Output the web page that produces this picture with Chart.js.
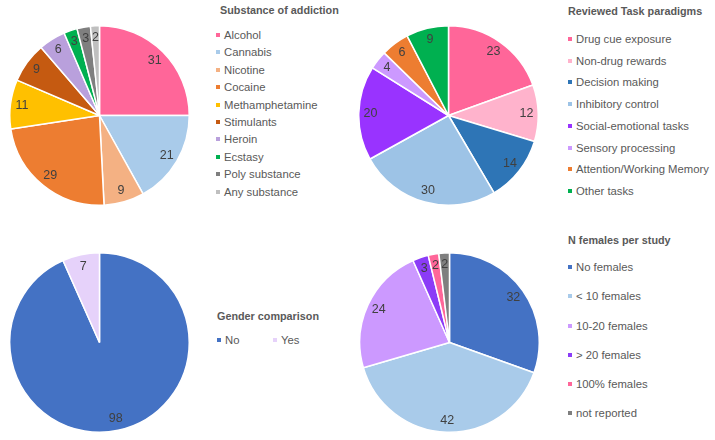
<!DOCTYPE html>
<html>
<head>
<meta charset="utf-8">
<script src="https://cdn.jsdelivr.net/npm/chart.js@4"></script>
<style>
  body { margin: 0; background: #fff; font-family: "Liberation Sans", Arial, sans-serif; }
  #wrap { position: relative; width: 715px; height: 440px; overflow: hidden; }
  .pie { position: absolute; width: 181px; height: 181px; }
  .lg { position: absolute; font-size: 11.3px; line-height: 14px; color: #595959; white-space: nowrap; }
  .lg.title { font-weight: bold; font-size: 10.8px; }
  .lg i { display: inline-block; width: 4px; height: 4px; margin-right: 4px; vertical-align: middle; position: relative; top: -1px; }
</style>
</head>
<body>
<div id="wrap">
  <div class="pie" style="left:9px;top:25px"><canvas id="substance"></canvas></div>
  <div class="pie" style="left:358px;top:25px"><canvas id="tasks"></canvas></div>
  <div class="pie" style="left:9px;top:252px"><canvas id="gender"></canvas></div>
  <div class="pie" style="left:359px;top:252px"><canvas id="females"></canvas></div>
</div>
<script>
const substanceLabels = ["Alcohol", "Cannabis", "Nicotine", "Cocaine", "Methamphetamine", "Stimulants", "Heroin", "Ecstasy", "Poly substance", "Any substance"];
const substanceValues = [31, 21, 9, 29, 11, 9, 6, 3, 3, 2];
const substanceColors = ["#ff6699", "#a9cbea", "#f4b183", "#ed7d31", "#ffc000", "#c55a11", "#b9a0dc", "#00b050", "#7f7f7f", "#bfbfbf"];

const taskLabels = ["Drug cue exposure", "Non-drug rewards", "Decision making", "Inhibitory control", "Social-emotional tasks", "Sensory processing", "Attention/Working Memory", "Other tasks"];
const taskValues = [23, 12, 14, 30, 20, 4, 6, 9];
const taskColors = ["#ff6699", "#ffb3cc", "#2e75b6", "#9dc3e6", "#9933ff", "#cc99ff", "#ed7d31", "#00b050"];

const genderLabels = ["No", "Yes"];
const genderValues = [98, 7];
const genderColors = ["#4472c4", "#e6d2fa"];

const femaleLabels = ["No females", "< 10 females", "10-20 females", "> 20 females", "100% females", "not reported"];
const femaleValues = [32, 42, 24, 3, 2, 2];
const femaleColors = ["#4472c4", "#a9cbea", "#cc99ff", "#8b3cf7", "#ff6699", "#7f7f7f"];

// draws the value inside each slice, near the outer edge
const sliceLabels = {
  id: "sliceLabels",
  afterDatasetsDraw(chart) {
    const ctx = chart.ctx;
    const values = chart.data.datasets[0].data;
    ctx.save();
    ctx.font = "12.5px 'Liberation Sans', Arial, sans-serif";
    ctx.fillStyle = "#404040";
    ctx.textAlign = "center";
    ctx.textBaseline = "middle";
    chart.getDatasetMeta(0).data.forEach((arc, i) => {
      const { x, y, startAngle, endAngle, outerRadius } = arc.getProps(["x", "y", "startAngle", "endAngle", "outerRadius"], true);
      const mid = (startAngle + endAngle) / 2;
      const r = outerRadius * 0.87;
      ctx.fillText(values[i], x + Math.cos(mid) * r, y + Math.sin(mid) * r);
    });
    ctx.restore();
  },
};

function makePie(id, labels, values, colors) {
  new Chart(document.getElementById(id), {
    type: "pie",
    data: {
      labels,
      datasets: [{ data: values, backgroundColor: colors, borderColor: "#fff", borderWidth: 1.5 }],
    },
    options: {
      responsive: true,
      maintainAspectRatio: false,
      animation: false,
      layout: { padding: 0 },
      plugins: { legend: { display: false }, tooltip: { enabled: false } },
    },
    plugins: [sliceLabels],
  });
}

function addText(left, centerY, html, cls) {
  const d = document.createElement("div");
  d.className = "lg" + (cls ? " " + cls : "");
  d.style.left = left + "px";
  d.style.top = (centerY - 7) + "px";
  d.innerHTML = html;
  document.getElementById("wrap").appendChild(d);
}

function addLegend(left, titleLeft, titleY, title, labels, colors, firstY, step) {
  addText(titleLeft, titleY, title, "title");
  labels.forEach((lab, i) => {
    addText(left, firstY + i * step, `<i style="background:${colors[i]}"></i>${lab}`);
  });
}

makePie("substance", substanceLabels, substanceValues, substanceColors);
makePie("tasks", taskLabels, taskValues, taskColors);
makePie("gender", genderLabels, genderValues, genderColors);
makePie("females", femaleLabels, femaleValues, femaleColors);

addLegend(216, 220, 10, "Substance of addiction", substanceLabels, substanceColors, 35, 17.4);
addLegend(568, 568, 11, "Reviewed Task paradigms", taskLabels, taskColors, 39, 21.7);
addLegend(568, 568, 240, "N females per study", femaleLabels, femaleColors, 267.3, 29.1);

addText(217, 316, "Gender comparison", "title");
addText(217, 340, `<i style="background:${genderColors[0]}"></i>${genderLabels[0]}`);
addText(273, 340, `<i style="background:${genderColors[1]}"></i>${genderLabels[1]}`);
</script>
</body>
</html>
